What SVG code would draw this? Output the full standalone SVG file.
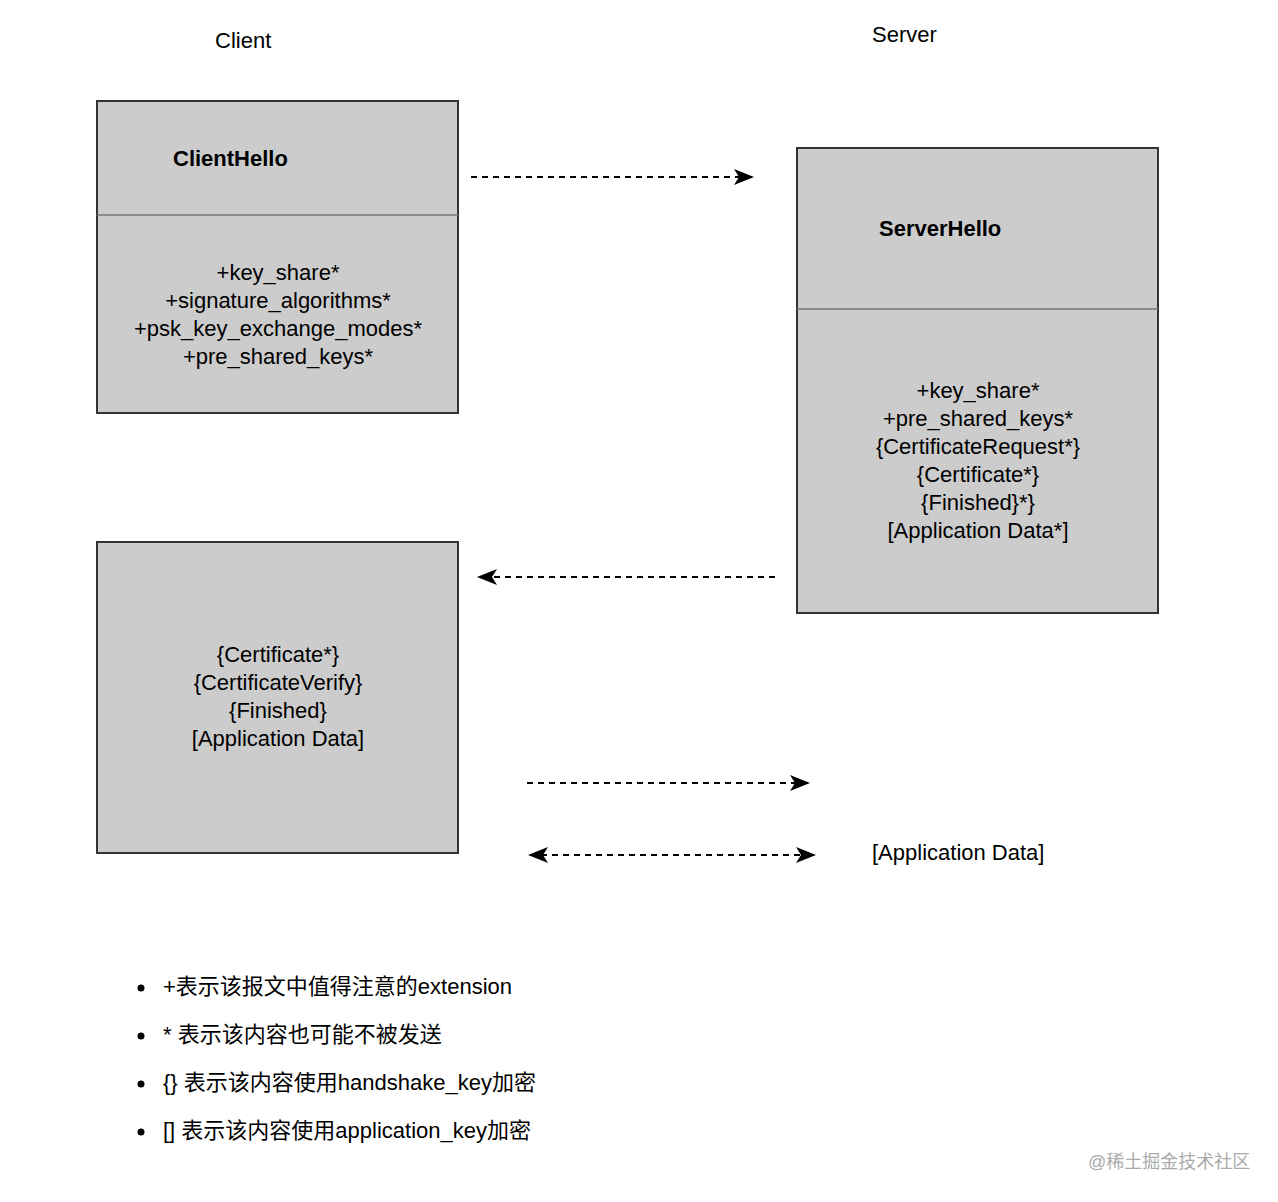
<svg xmlns="http://www.w3.org/2000/svg" width="1278" height="1202" viewBox="0 0 1278 1202">
<style>
text{font-family:"Liberation Sans","Noto Sans CJK SC",sans-serif;fill:#000}
.t{font-size:22px}
.b{font-size:22px;font-weight:bold}
.box{fill:#cccccc;stroke:#333;stroke-width:2}
.div{stroke:#777;stroke-width:1.5}
.c{fill:none;stroke:#000;stroke-width:2;stroke-dasharray:6,5}
</style>
<defs>
<marker id="ah" viewBox="0 0 10 10" refX="9" refY="5" markerWidth="9" markerHeight="9" markerUnits="userSpaceOnUse" orient="auto-start-reverse"><path d="M0,0 L10,5 L0,10 L3,5 Z" fill="#000"/></marker>
<marker id="a" viewBox="0 0 20 16" refX="18" refY="8" markerWidth="20" markerHeight="16" markerUnits="userSpaceOnUse" orient="auto-start-reverse"><path d="M0,0 L20,8 L0,16 L5,8 Z" fill="#000"/></marker>
</defs>
<rect width="1278" height="1202" fill="#fff"/>
<text class="t" x="215" y="48">Client</text>
<text class="t" x="872" y="42">Server</text>
<g id="clienthello">
<rect class="box" x="97" y="101" width="361" height="312"/>
<line class="div" x1="97" y1="215" x2="458" y2="215"/>
<text class="b" x="173" y="166">ClientHello</text>
<text class="t" text-anchor="middle" x="278" y="280">+key_share*</text>
<text class="t" text-anchor="middle" x="278" y="308">+signature_algorithms*</text>
<text class="t" text-anchor="middle" x="278" y="336">+psk_key_exchange_modes*</text>
<text class="t" text-anchor="middle" x="278" y="364">+pre_shared_keys*</text>
</g>
<g id="serverhello">
<rect class="box" x="797" y="148" width="361" height="465"/>
<line class="div" x1="797" y1="309" x2="1158" y2="309"/>
<text class="b" x="879" y="236">ServerHello</text>
<text class="t" text-anchor="middle" x="978" y="398">+key_share*</text>
<text class="t" text-anchor="middle" x="978" y="426">+pre_shared_keys*</text>
<text class="t" text-anchor="middle" x="978" y="454">{CertificateRequest*}</text>
<text class="t" text-anchor="middle" x="978" y="482">{Certificate*}</text>
<text class="t" text-anchor="middle" x="978" y="510">{Finished}*}</text>
<text class="t" text-anchor="middle" x="978" y="538">[Application Data*]</text>
</g>
<g id="clientfinish">
<rect class="box" x="97" y="542" width="361" height="311"/>
<text class="t" text-anchor="middle" x="278" y="662">{Certificate*}</text>
<text class="t" text-anchor="middle" x="278" y="690">{CertificateVerify}</text>
<text class="t" text-anchor="middle" x="278" y="718">{Finished}</text>
<text class="t" text-anchor="middle" x="278" y="746">[Application Data]</text>
</g>
<g id="appdata"><text class="t" x="872" y="860">[Application Data]</text></g>
<g id="connectors">
<line class="c" x1="471" y1="177" x2="752" y2="177" marker-end="url(#a)"/>
<line class="c" x1="775" y1="577" x2="479" y2="577" marker-end="url(#a)"/>
<line class="c" x1="527" y1="783" x2="808" y2="783" marker-end="url(#a)"/>
<line class="c" x1="530" y1="855" x2="814" y2="855" marker-start="url(#a)" marker-end="url(#a)"/>
</g>
<g id="legend">
<circle cx="141" cy="988" r="3.5"/><text class="t" x="163" y="994">+表示该报文中值得注意的extension</text>
<circle cx="141" cy="1036" r="3.5"/><text class="t" x="163" y="1042">* 表示该内容也可能不被发送</text>
<circle cx="141" cy="1084" r="3.5"/><text class="t" x="163" y="1090">{} 表示该内容使用handshake_key加密</text>
<circle cx="141" cy="1132" r="3.5"/><text class="t" x="163" y="1138">[] 表示该内容使用application_key加密</text>
</g>
<text x="1088" y="1168" style="font-size:18px;fill:#aaa">@稀土掘金技术社区</text>
</svg>
